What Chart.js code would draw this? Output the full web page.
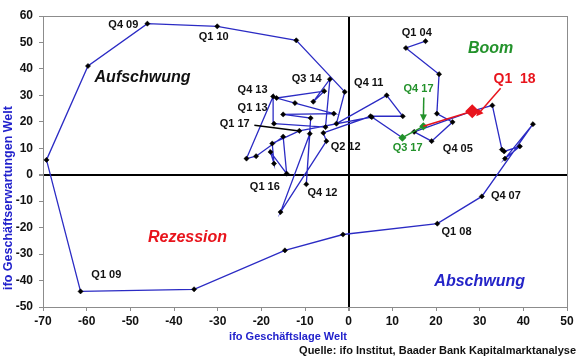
<!DOCTYPE html>
<html>
<head>
<meta charset="utf-8">
<script src="https://cdn.jsdelivr.net/npm/chart.js@4.4.1/dist/chart.umd.min.js"></script>
<style>
  html, body { margin: 0; padding: 0; background: #fff; }
  #wrap { width: 580px; height: 359px; }
</style>
</head>
<body>
<div id="wrap"><canvas id="chart"></canvas></div>
<script>
// ifo Geschaeftslage (x) und Geschaeftserwartungen (y) Welt, Q1 04 .. Q3 17
const lageX = [17.6, 13.1, 20.7, 20.2, 23.8, 19.0, 15.0, 28.3, 32.9, 35.1, 35.6, 39.2,
               35.8, 42.2, 30.5, 20.3, -1.3, -14.6, -35.4, -61.4, -69.2, -59.7, -46.1, -30.1,
               -12.0, -0.9, -2.8, 8.7, 12.4, 5.0, -5.8, -5.1, -15.6, -8.9, -9.7, -8.7,
               -15.0, -3.4, -12.3, -16.5, -5.6, -8.1, -4.3, -5.3, -17.1, -17.3, -23.4, -21.2,
               -15.0, -14.2, -17.9, -17.1, -17.5, -11.3, 5.3, 12.3]
const erwY  = [50.5, 47.9, 38.0, 23.1, 19.9, 12.7, 16.2, 24.0, 26.2, 9.5, 8.8, 10.7,
               6.1, 19.1, -8.2, -18.5, -22.6, -28.6, -43.3, -44.1, 5.6, 41.1, 57.1, 56.1,
               50.8, 31.3, 19.3, 30.0, 22.1, 22.1, 15.8, 12.7, -14.1, 15.5, -3.6, 21.4,
               22.8, 23.1, 27.1, 29.0, 31.6, 27.6, 36.1, 18.0, 19.3, 29.6, 6.1, 7.0,
               14.4, 0.4, 8.6, 4.2, 11.8, 16.6, 21.8, 14.0]
// Q3 17 -> Q4 17 (gruen), Q4 17 -> Q1 18 (rot)
const lage17 = [12.3, 17.1]
const erw17  = [14.0, 18.3]
const lage18 = [17.1, 28.3]
const erw18  = [18.3, 24.0]

const xTicks = {min: -70, max: 50, step: 10}
const yTicks = {min: -50, max: 60, step: 10}

const quarterLabels = [
  {text: 'Q4 09', x: -51.6, y: 56.5},
  {text: 'Q1 10', x: -30.9, y: 51.9},
  {text: 'Q3 14', x: -9.6, y: 36.1},
  {text: 'Q4 13', x: -22.0, y: 32.0},
  {text: 'Q1 13', x: -22.0, y: 25.1},
  {text: 'Q1 17', x: -26.1, y: 19.1},
  {text: 'Q4 11', x: 4.6, y: 34.6},
  {text: 'Q2 12', x: -0.7, y: 10.4},
  {text: 'Q1 04', x: 15.6, y: 53.5},
  {text: 'Q4 05', x: 25.0, y: 9.6},
  {text: 'Q4 07', x: 36.0, y: -8.2},
  {text: 'Q1 08', x: 24.7, y: -21.8},
  {text: 'Q4 12', x: -6.0, y: -7.0},
  {text: 'Q1 16', x: -19.2, y: -4.8},
  {text: 'Q1 09', x: -55.5, y: -38.0}
]
const greenLabels = [
  {text: 'Q4 17', x: 16.0, y: 32.3},
  {text: 'Q3 17', x: 13.5, y: 10.0}
]
const redLabel = {text: 'Q1  18', x: 38.0, y: 36.1}

const phases = [
  {text: 'Aufschwung', x: -47.2, y: 36.8, color: '#111111'},
  {text: 'Boom', x: 32.5, y: 47.8, color: '#23922b'},
  {text: 'Rezession', x: -36.9, y: -23.7, color: '#e8141c'},
  {text: 'Abschwung', x: 30.0, y: -40.3, color: '#2424c8'}
]

const FONT = '"Liberation Sans", Arial, sans-serif'
const BLUE = '#2b2bc4'
const GREEN = '#23922b'
const RED = '#e8141c'

function arrow(ctx, x1, y1, x2, y2, color, w) {
  const a = Math.atan2(y2 - y1, x2 - x1)
  ctx.strokeStyle = color
  ctx.fillStyle = color
  ctx.lineWidth = w
  ctx.beginPath()
  ctx.moveTo(x1, y1)
  ctx.lineTo(x2 - 5 * Math.cos(a), y2 - 5 * Math.sin(a))
  ctx.stroke()
  ctx.beginPath()
  ctx.moveTo(x2, y2)
  ctx.lineTo(x2 - 7 * Math.cos(a) + 3.5 * Math.sin(a), y2 - 7 * Math.sin(a) - 3.5 * Math.cos(a))
  ctx.lineTo(x2 - 7 * Math.cos(a) - 3.5 * Math.sin(a), y2 - 7 * Math.sin(a) + 3.5 * Math.cos(a))
  ctx.closePath()
  ctx.fill()
}

const decor = {
  id: 'decor',
  beforeDatasetsDraw(chart) {
    const {ctx, chartArea: ca} = chart
    ctx.save()
    ctx.strokeStyle = '#8c8c8c'
    ctx.lineWidth = 1
    ctx.strokeRect(ca.left + 0.5, ca.top + 0.5, ca.right - ca.left, ca.bottom - ca.top)
    ctx.restore()
  },
  afterDatasetsDraw(chart) {
    const {ctx} = chart
    const sx = chart.scales.x, sy = chart.scales.y
    const px = v => sx.getPixelForValue(v)
    const py = v => sy.getPixelForValue(v)
    ctx.save()
    ctx.textAlign = 'center'
    ctx.textBaseline = 'middle'

    ctx.font = 'italic bold 16px ' + FONT
    phases.forEach(p => { ctx.fillStyle = p.color; ctx.fillText(p.text, px(p.x), py(p.y)) })

    ctx.font = 'bold 11px ' + FONT
    ctx.fillStyle = '#111'
    quarterLabels.forEach(l => ctx.fillText(l.text, px(l.x), py(l.y)))
    ctx.fillStyle = GREEN
    greenLabels.forEach(l => ctx.fillText(l.text, px(l.x), py(l.y)))
    ctx.font = 'bold 14px ' + FONT
    ctx.fillStyle = RED
    ctx.fillText(redLabel.text, px(redLabel.x), py(redLabel.y))

    // Zeiger Q1 17
    const j = lageX.length - 3
    ctx.strokeStyle = '#000'
    ctx.lineWidth = 1.5
    ctx.beginPath()
    ctx.moveTo(px(-21.6), py(18.7))
    ctx.lineTo(px(lageX[j]) + 2, py(erwY[j]) + 0.5)
    ctx.stroke()

    // Pfeile Q4 17 und Q1 18
    arrow(ctx, px(17.2), py(29.2), px(lage17[1]), py(erw17[1]) - 5, GREEN, 1.5)
    arrow(ctx, px(34.8), py(32.7), px(lage18[1]) + 4, py(erw18[1]) + 5, RED, 1.5)

    // Achsentitel und Quelle
    ctx.fillStyle = '#2222cc'
    ctx.font = 'bold 11px ' + FONT
    ctx.fillText('ifo Geschäftslage Welt', 288, 337)
    ctx.save()
    ctx.translate(9, 198)
    ctx.rotate(-Math.PI / 2)
    ctx.font = 'bold 12.5px ' + FONT
    ctx.fillText('ifo Geschäftserwartungen Welt', 0, 0)
    ctx.restore()
    ctx.fillStyle = '#111'
    ctx.textAlign = 'right'
    ctx.font = 'bold 11px ' + FONT
    ctx.fillText('Quelle: ifo Institut, Baader Bank Kapitalmarktanalyse', 576, 351)
    ctx.restore()
  }
}

const zeroGrid = {
  drawOnChartArea: true,
  color: c => c.tick && c.tick.value === 0 ? '#000' : 'rgba(0,0,0,0)',
  lineWidth: c => c.tick && c.tick.value === 0 ? 2 : 1,
  tickColor: '#8c8c8c',
  tickLength: 4
}
const tickFont = {family: FONT, size: 12, weight: 'bold'}

const lastBlue = lageX.length - 1
new Chart(document.getElementById('chart').getContext('2d'), {
  type: 'scatter',
  data: {
    datasets: [
      {
        data: lageX.map((x, i) => ({x: x, y: erwY[i]})),
        showLine: true,
        borderColor: BLUE,
        borderWidth: 1.3,
        pointStyle: 'rectRot',
        pointRadius: c => c.dataIndex === lastBlue ? 0 : 2.6,
        pointBackgroundColor: '#000',
        pointBorderColor: '#000',
        pointBorderWidth: 0.5,
        order: 3
      },
      {
        data: lage17.map((x, i) => ({x: x, y: erw17[i]})),
        showLine: true,
        borderColor: GREEN,
        borderWidth: 1.5,
        pointStyle: 'rectRot',
        pointRadius: 3,
        pointBackgroundColor: GREEN,
        pointBorderColor: GREEN,
        order: 2
      },
      {
        data: lage18.map((x, i) => ({x: x, y: erw18[i]})),
        showLine: true,
        borderColor: RED,
        borderWidth: 1.5,
        pointStyle: 'rectRot',
        pointRadius: [0, 6],
        pointBackgroundColor: RED,
        pointBorderColor: RED,
        order: 1
      }
    ]
  },
  options: {
    responsive: true,
    maintainAspectRatio: false,
    animation: {duration: 0},
    layout: {padding: {top: 16, right: 13, left: 0, bottom: 0}},
    plugins: {legend: {display: false}, tooltip: {enabled: false}},
    scales: {
      x: {
        type: 'linear', min: xTicks.min, max: xTicks.max,
        ticks: {stepSize: xTicks.step, font: tickFont, color: '#111', padding: 3, maxRotation: 0},
        grid: zeroGrid,
        border: {display: true, color: '#8c8c8c'},
        afterFit: s => { s.height = 52 }
      },
      y: {
        type: 'linear', min: yTicks.min, max: yTicks.max,
        ticks: {stepSize: yTicks.step, font: tickFont, color: '#111', padding: 6},
        grid: zeroGrid,
        border: {display: true, color: '#8c8c8c'},
        afterFit: s => { s.width = 43 }
      }
    }
  },
  plugins: [decor]
})
</script>
</body>
</html>
